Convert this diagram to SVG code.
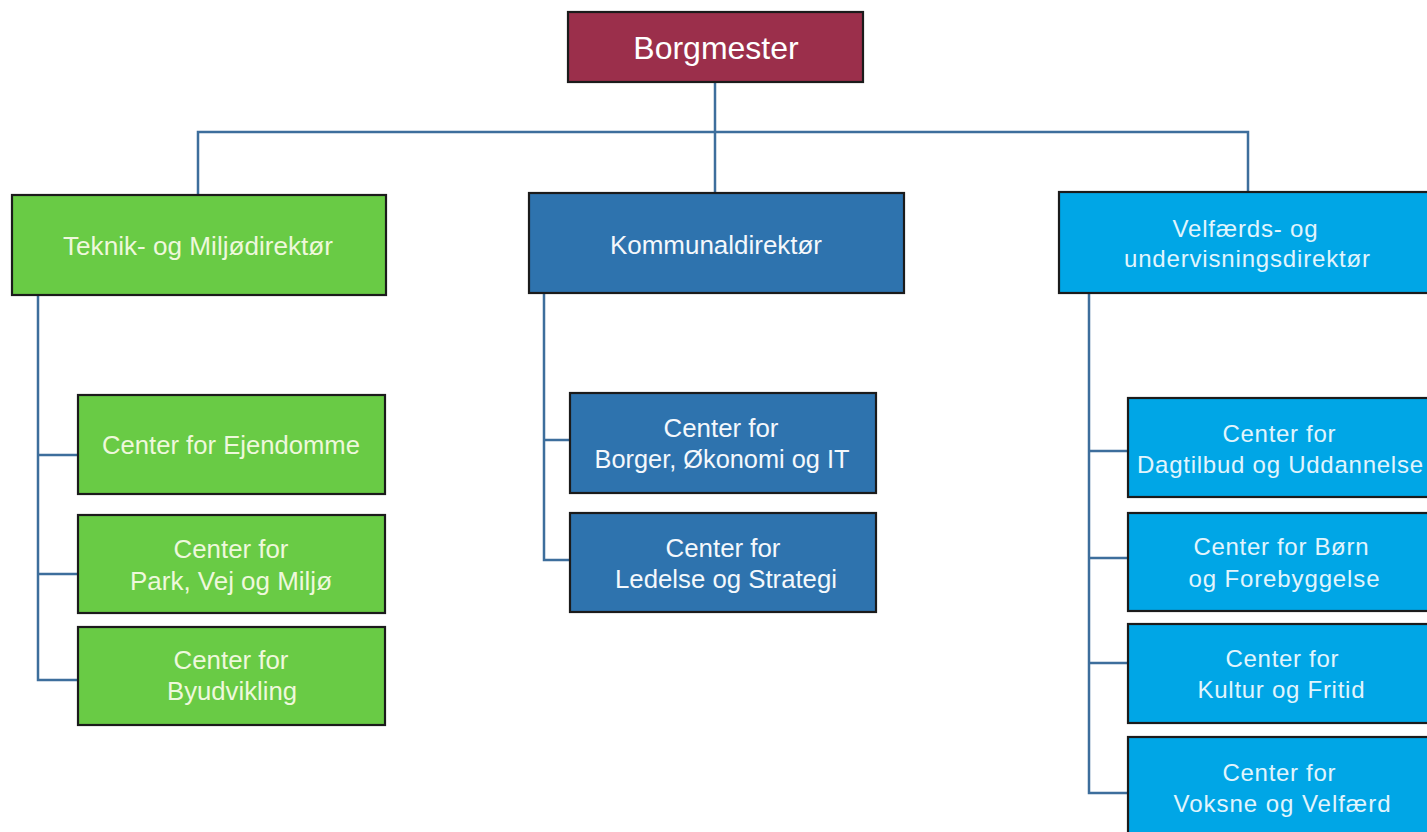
<svg xmlns="http://www.w3.org/2000/svg" width="1427" height="832" viewBox="0 0 1427 832">
<style>
.box{stroke:#1b1b1b;stroke-width:2.2}
.mar{fill:#9b2f4b}
.grn{fill:#69cb45}
.blu{fill:#2e73ae}
.cyn{fill:#00a6e6}
text{font-family:"Liberation Sans",Arial,sans-serif;text-anchor:middle;font-size:24px}
text.big{font-size:32px;fill:#ffffff}
.tg{fill:#eef8dc;font-size:25px}
.tw{fill:#f4f8fc;font-size:25px}
.tc{fill:#e2f5fd}
.con{fill:none;stroke:#3d6e9c;stroke-width:2.5}
</style>
<rect width="1427" height="832" fill="#ffffff"/>
<g id="connectors">
<path class="con" d="M715,82 V193"/>
<path class="con" d="M198,195 V132 H1248 V192"/>
<path class="con" d="M38,295 V680 H78 M38,455 H78 M38,574 H78"/>
<path class="con" d="M544,293 V560 H570 M544,440 H570"/>
<path class="con" d="M1089,292 V793 H1128 M1089,451 H1128 M1089,558 H1128 M1089,663 H1128"/>
</g>
<g id="borgmester">
<rect class="box mar" x="568" y="12" width="295" height="70"/>
<text class="big" x="716" y="59">Borgmester</text>
</g>
<g id="teknik">
<rect class="box grn" x="12" y="195" width="374" height="100"/>
<text class="tg" x="198" y="255" textLength="270" lengthAdjust="spacingAndGlyphs">Teknik- og Miljødirektør</text>
</g>
<g id="kommunal">
<rect class="box blu" x="529" y="193" width="375" height="100"/>
<text class="tw" x="716" y="254" textLength="212" lengthAdjust="spacingAndGlyphs">Kommunaldirektør</text>
</g>
<g id="velfaerd">
<rect class="box cyn" x="1059" y="192" width="380" height="101"/>
<text class="tc" x="1245" y="237" textLength="145">Velfærds- og</text>
<text class="tc" x="1247" y="267" textLength="246">undervisningsdirektør</text>
</g>
<g id="ejendomme">
<rect class="box grn" x="78" y="395" width="307" height="99"/>
<text class="tg" x="231" y="454" textLength="258" lengthAdjust="spacingAndGlyphs">Center for Ejendomme</text>
</g>
<g id="park">
<rect class="box grn" x="78" y="515" width="307" height="98"/>
<text class="tg" x="231" y="558" textLength="115" lengthAdjust="spacingAndGlyphs">Center for</text>
<text class="tg" x="231" y="590" textLength="202" lengthAdjust="spacingAndGlyphs">Park, Vej og Miljø</text>
</g>
<g id="byudvikling">
<rect class="box grn" x="78" y="627" width="307" height="98"/>
<text class="tg" x="231" y="669" textLength="115" lengthAdjust="spacingAndGlyphs">Center for</text>
<text class="tg" x="232" y="700" textLength="130" lengthAdjust="spacingAndGlyphs">Byudvikling</text>
</g>
<g id="borger">
<rect class="box blu" x="570" y="393" width="306" height="100"/>
<text class="tw" x="721" y="437" textLength="115" lengthAdjust="spacingAndGlyphs">Center for</text>
<text class="tw" x="722" y="468" textLength="255" lengthAdjust="spacingAndGlyphs">Borger, Økonomi og IT</text>
</g>
<g id="ledelse">
<rect class="box blu" x="570" y="513" width="306" height="99"/>
<text class="tw" x="723" y="557" textLength="115" lengthAdjust="spacingAndGlyphs">Center for</text>
<text class="tw" x="726" y="588" textLength="222" lengthAdjust="spacingAndGlyphs">Ledelse og Strategi</text>
</g>
<g id="dagtilbud">
<rect class="box cyn" x="1128" y="398" width="312" height="99"/>
<text class="tc" x="1279" y="442" textLength="113">Center for</text>
<text class="tc" x="1280" y="473" textLength="286">Dagtilbud og Uddannelse</text>
</g>
<g id="boern">
<rect class="box cyn" x="1128" y="513" width="312" height="98"/>
<text class="tc" x="1281" y="555" textLength="175">Center for Børn</text>
<text class="tc" x="1284" y="587" textLength="191">og Forebyggelse</text>
</g>
<g id="kultur">
<rect class="box cyn" x="1128" y="624" width="312" height="99"/>
<text class="tc" x="1282" y="667" textLength="113">Center for</text>
<text class="tc" x="1281" y="698" textLength="167">Kultur og Fritid</text>
</g>
<g id="voksne">
<rect class="box cyn" x="1128" y="737" width="312" height="110"/>
<text class="tc" x="1279" y="781" textLength="113">Center for</text>
<text class="tc" x="1282" y="812" textLength="217">Voksne og Velfærd</text>
</g>
</svg>
